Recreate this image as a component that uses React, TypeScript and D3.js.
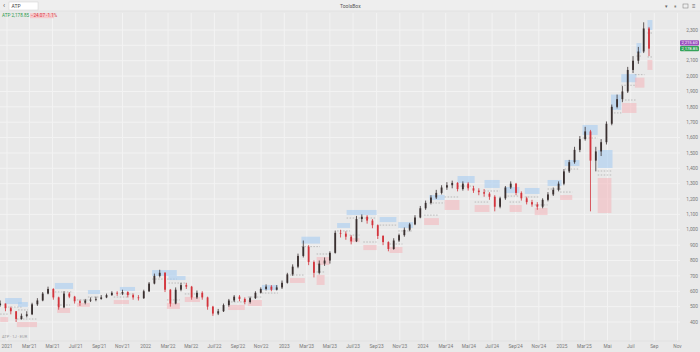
import React from 'react'
import * as d3 from 'd3'

const W = 700
const H = 352

// bi-weekly bars, first one on 2020-12-14
const firstBar = '2020-12-14'
const barDays = 14

const closes = [
  520, 490, 470, 420, 440, 450, 515, 540, 585, 615,
  560, 495, 585, 565, 535, 525, 540, 545, 550, 560,
  575, 590, 585, 595, 575, 560, 555, 600, 650, 700,
  720, 610, 520, 610, 640, 630, 560, 590, 560, 500,
  455, 470, 510, 540, 565, 550, 530, 555, 590, 615,
  630, 610, 625, 655, 710, 760, 830, 890, 790, 720,
  780, 800, 850, 980, 975, 955, 925, 1070, 1085, 1060,
  1030, 960, 920, 875, 930, 965, 1000, 1035, 1080, 1140,
  1175, 1210, 1240, 1275, 1290, 1305, 1265, 1300, 1270, 1255,
  1245, 1235, 1215, 1150, 1205, 1275, 1300, 1240, 1205, 1180,
  1165, 1150, 1195, 1230, 1260, 1300, 1380, 1440, 1520, 1590,
  1640, 1450, 1510, 1570, 1690, 1800, 1850, 1900, 2040, 2100,
  2160, 2310, 2178.85,
]
const highs = [
  540, 520, 500, 470, 455, 470, 525, 555, 595, 630,
  620, 565, 600, 595, 570, 545, 550, 560, 565, 575,
  585, 600, 600, 610, 600, 585, 575, 610, 660, 715,
  740, 725, 615, 625, 655, 655, 635, 605, 600, 565,
  505, 485, 520, 550, 575, 575, 560, 565, 600, 625,
  645, 640, 640, 670, 720, 775, 845, 930, 900, 800,
  800, 820, 860, 995, 1000, 990, 965, 1090, 1100, 1095,
  1070, 1035, 965, 925, 945, 975, 1015, 1045, 1095, 1155,
  1190, 1225, 1260, 1290, 1310, 1320, 1310, 1315, 1310, 1285,
  1270, 1265, 1245, 1225, 1215, 1285, 1315, 1305, 1250, 1215,
  1195, 1180, 1205, 1245, 1275, 1315, 1395, 1455, 1540, 1610,
  1670, 1650, 1540, 1590, 1705, 1815, 1880, 1935, 2060, 2130,
  2190, 2350, 2320,
]
const lows = [
  500, 470, 450, 400, 415, 430, 445, 505, 535, 580,
  545, 480, 490, 555, 520, 505, 515, 530, 535, 545,
  555, 570, 570, 575, 560, 545, 540, 550, 595, 645,
  690, 595, 500, 515, 600, 615, 545, 550, 545, 480,
  440, 445, 465, 500, 530, 535, 515, 520, 550, 585,
  605, 600, 605, 615, 650, 700, 750, 820, 770, 690,
  710, 765, 780, 845, 950, 935, 905, 920, 1050, 1040,
  1010, 940, 900, 860, 870, 920, 955, 990, 1030, 1075,
  1130, 1165, 1200, 1230, 1260, 1270, 1250, 1255, 1255, 1240,
  1225, 1215, 1195, 1120, 1140, 1195, 1265, 1225, 1190, 1165,
  1150, 1130, 1140, 1185, 1220, 1250, 1290, 1370, 1430, 1505,
  1580, 1120, 1380, 1480, 1555, 1680, 1790, 1830, 1890, 2020,
  2080, 2150, 2130,
]
const firstOpen = 510

// blue zones (above price)
const upStart = ['2020-12-27', '2021-01-30', '2021-05-07', '2021-08-02', '2021-10-25', '2022-01-18', '2022-03-02', '2022-11-03', '2023-02-15', '2023-05-20', '2023-06-14', '2023-09-09', '2023-10-28', '2024-01-18', '2024-04-01', '2024-06-11', '2024-08-03', '2024-09-25', '2024-11-24', '2025-01-08', '2025-02-24', '2025-04-05', '2025-05-10', '2025-06-06', '2025-07-16', '2025-08-14']
const upEnd = ['2021-02-09', '2021-02-25', '2021-06-24', '2021-09-03', '2021-12-04', '2022-03-24', '2022-04-16', '2022-12-15', '2023-04-05', '2023-06-23', '2023-09-01', '2023-10-23', '2023-12-06', '2024-02-27', '2024-05-16', '2024-07-21', '2024-09-11', '2024-11-03', '2024-12-31', '2025-02-16', '2025-04-05', '2025-05-14', '2025-06-06', '2025-07-16', '2025-07-29', '2025-08-27']
const upTop = [556, 530, 654, 608, 628, 738, 699, 641, 955, 1044, 1129, 1083, 1050, 1226, 1350, 1324, 1278, 1272, 1324, 1454, 1682, 1519, 1880, 2013, 2215, 2365]
const upBottom = [517, 498, 615, 582, 602, 699, 673, 608, 910, 1012, 1096, 1050, 1012, 1194, 1304, 1272, 1239, 1233, 1285, 1415, 1617, 1402, 1780, 1960, 2150, 2300]

// pink zones (below price)
const downStart = ['2020-12-14', '2021-01-27', '2021-05-13', '2021-07-04', '2021-10-09', '2022-02-26', '2022-04-14', '2022-08-06', '2022-09-27', '2023-01-16', '2023-03-27', '2023-03-27', '2023-06-22', '2023-07-28', '2023-10-05', '2024-01-04', '2024-02-27', '2024-05-16', '2024-08-16', '2024-10-21', '2024-12-27', '2025-04-05', '2025-06-08', '2025-07-12', '2025-08-14']
const downEnd = ['2021-01-04', '2021-03-21', '2021-06-16', '2021-08-07', '2021-11-18', '2022-04-01', '2022-05-24', '2022-09-19', '2022-11-03', '2023-02-24', '2023-04-30', '2023-04-17', '2023-07-18', '2023-09-01', '2023-11-08', '2024-02-12', '2024-04-06', '2024-06-24', '2024-09-17', '2024-11-24', '2025-01-28', '2025-05-11', '2025-07-16', '2025-08-06', '2025-08-27']
const downTop = [432, 400, 491, 524, 543, 524, 563, 511, 543, 686, 823, 706, 946, 901, 888, 1076, 1194, 1161, 1161, 1142, 1226, 1337, 1825, 1990, 2105]
const downBottom = [400, 367, 459, 498, 517, 485, 530, 478, 504, 654, 771, 641, 920, 868, 849, 1031, 1129, 1116, 1116, 1096, 1194, 1109, 1760, 1925, 2040]

const priceTicks = [400, 500, 600, 700, 800, 900, 1000, 1100, 1200, 1300, 1400, 1500, 1600, 1700, 1800, 1900, 2000, 2100, 2200, 2300]
const dateTicks = [
  '2021-01-01', '2021-03-01', '2021-05-01', '2021-07-01', '2021-09-01', '2021-11-01',
  '2022-01-01', '2022-03-01', '2022-05-01', '2022-07-01', '2022-09-01', '2022-11-01',
  '2023-01-01', '2023-03-01', '2023-05-01', '2023-07-01', '2023-09-01', '2023-11-01',
  '2024-01-01', '2024-03-01', '2024-05-01', '2024-07-01', '2024-09-01', '2024-11-01',
  '2025-01-01', '2025-03-01', '2025-05-01', '2025-07-01', '2025-09-01', '2025-11-01',
]
const dateLabels = [
  '2021', "Mar'21", "Mai'21", "Juil'21", "Sep'21", "Nov'21",
  '2022', "Mar'22", "Mai'22", "Juil'22", "Sep'22", "Nov'22",
  '2023', "Mar'23", "Mai'23", "Juil'23", "Sep'23", "Nov'23",
  '2024', "Mar'24", "Mai'24", "Juil'24", "Sep'24", "Nov'24",
  '2025', "Mar'25", 'Mai', 'Juil', 'Sep', 'Nov',
]

const lastPrice = 2178.85
const change = -24.07
const changePct = -1.1
const zoneLevel = 2215.6

const FONT = 'Roboto, "Noto Sans", sans-serif'
const UP = '#3a3030'
const DOWN = '#d3343c'

const parse = d3.utcParse('%Y-%m-%d')

export default function App() {
  const plotRight = 680
  const plotTop = 13
  const plotBottom = 341

  const x = d3.scaleUtc()
    .domain([parse('2021-01-01')!, parse('2025-01-01')!])
    .range([7, 562])
  const y = d3.scaleLinear().domain([400, 2300]).range([322, 30])

  const start = parse(firstBar)!
  const bars = closes.map((c, i) => ({
    date: d3.utcDay.offset(start, i * barDays),
    open: i === 0 ? firstOpen : closes[i - 1],
    close: c,
    high: highs[i],
    low: lows[i],
  }))
  const step = x(d3.utcDay.offset(start, barDays)) - x(start)
  const bodyW = step * 0.34

  const fmt = d3.format(',')
  const fmt2 = d3.format(',.2f')

  // axis labels hidden under the price tags, like the platform does
  const tagYs = [y(zoneLevel), y(lastPrice)]
  const shownTicks = priceTicks.filter(p => tagYs.every(t => Math.abs(y(p) - t) > 4))

  const zone = (s: string, e: string, t: number, b: number, up: boolean, k: string) => {
    const x0 = x(parse(s)!)
    const x1 = x(parse(e)!)
    const edge = up ? y(b) : y(t)
    return (
      <g key={k}>
        <rect x={x0} y={y(t)} width={x1 - x0} height={y(b) - y(t)}
          fill={up ? '#a9cdf2' : '#f4b5ba'} fillOpacity={up ? 0.6 : 0.55} />
        <line x1={x0} x2={x1} y1={edge + (up ? 3 : -3)} y2={edge + (up ? 3 : -3)}
          stroke="#9a9a9a" strokeWidth={0.6} strokeDasharray="1.5,1.5" />
      </g>
    )
  }

  return (
    <div style={{ position: 'absolute', left: 0, top: 0 }}>
      <svg width={W} height={H} style={{ display: 'block', fontFamily: FONT }}>
        <rect width={W} height={H} fill="#e9e9e9" />

        {/* grid */}
        {dateTicks.map(d => (
          <line key={d} x1={x(parse(d)!)} x2={x(parse(d)!)} y1={plotTop} y2={plotBottom}
            stroke="#f3f3f3" strokeWidth={1} />
        ))}
        {priceTicks.map(p => (
          <line key={p} x1={0} x2={plotRight} y1={y(p)} y2={y(p)} stroke="#f3f3f3" strokeWidth={1} />
        ))}

        {/* zones */}
        {upStart.map((s, i) => zone(s, upEnd[i], upTop[i], upBottom[i], true, 'u' + i))}
        {downStart.map((s, i) => zone(s, downEnd[i], downTop[i], downBottom[i], false, 'd' + i))}

        {/* candles */}
        {bars.map((b, i) => {
          const cx = x(b.date)
          const col = b.close >= b.open ? UP : DOWN
          const top = y(Math.max(b.open, b.close))
          const bot = y(Math.min(b.open, b.close))
          return (
            <g key={i}>
              <line x1={cx} x2={cx} y1={y(b.high)} y2={y(b.low)} stroke={col} strokeWidth={0.8} />
              <rect x={cx - bodyW / 2} y={top} width={bodyW} height={Math.max(0.8, bot - top)} fill={col} />
            </g>
          )
        })}

        {/* top bar */}
        <rect x={0} y={0} width={W} height={11} fill="#eeeeee" />
        <line x1={0} x2={W} y1={11} y2={11} stroke="#dcdcdc" strokeWidth={0.6} />
        <text x={3} y={8} fontSize={7} fill="#555">‹</text>
        <rect x={9} y={2} width={29} height={8} fill="#ffffff" stroke="#d0d0d0" strokeWidth={0.5} />
        <text x={11.5} y={8} fontSize={5} fill="#444">ATP</text>
        <text x={340} y={8} fontSize={5} fill="#555">ToolsBox</text>
        <text x={665} y={8} fontSize={5} fill="#666">▾</text>
        <text x={674} y={8} fontSize={5} fill="#666">⏸</text>
        <rect x={683} y={4} width={5} height={4} fill="none" stroke="#777" strokeWidth={0.5} />
        <text x={692} y={8} fontSize={6} fill="#666">≡</text>

        {/* legend */}
        <text x={2} y={17} fontSize={4.6} fill="#2d9b4d">ATP {fmt2(lastPrice)}</text>
        <rect x={30} y={13.2} width={24} height={5} fill="#f6c9cc" />
        <text x={30.8} y={17} fontSize={4.6} fill="#d7373f">{fmt2(change)} {changePct.toFixed(1)}%</text>

        {/* price axis */}
        {shownTicks.map(p => (
          <text key={p} x={698} y={y(p) + 1.7} fontSize={4.8} fill="#7a7a7a" textAnchor="end">{fmt(p)}</text>
        ))}
        <rect x={680} y={y(zoneLevel) - 2.7} width={19} height={5.3} rx={1} fill="#9b4fbf" />
        <text x={689.5} y={y(zoneLevel) + 1.5} fontSize={4.2} fill="#fff" textAnchor="middle">{fmt2(zoneLevel)}</text>
        <rect x={680} y={y(lastPrice) - 2.7} width={19} height={5.3} rx={1} fill="#35a35a" />
        <text x={689.5} y={y(lastPrice) + 1.5} fontSize={4.2} fill="#fff" textAnchor="middle">{fmt2(lastPrice)}</text>

        {/* time axis */}
        <line x1={0} x2={plotRight} y1={plotBottom} y2={plotBottom} stroke="#dedede" strokeWidth={0.6} />
        {dateTicks.map((d, i) => (
          <text key={d} x={x(parse(d)!)} y={348} fontSize={4.8} fill="#7a7a7a" textAnchor="middle">{dateLabels[i]}</text>
        ))}
        <text x={2} y={338} fontSize={4} fill="#9a9a9a">ATP · 1J · EUR</text>
      </svg>
    </div>
  )
}
